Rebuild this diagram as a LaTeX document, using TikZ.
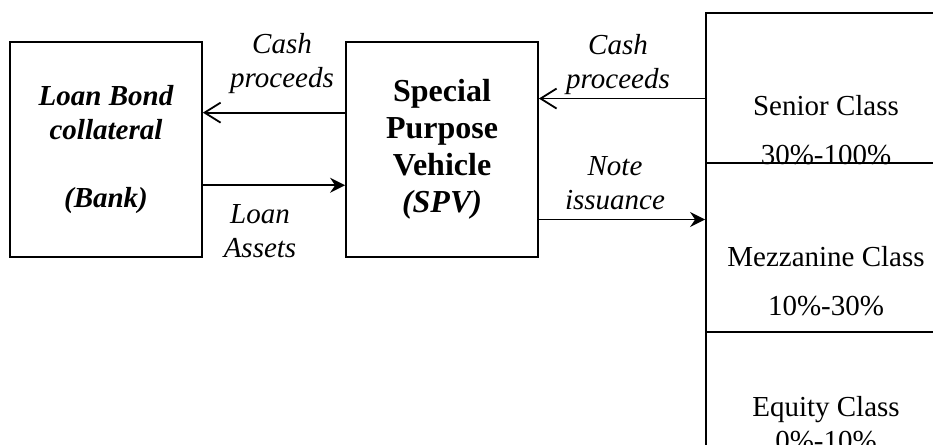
\documentclass[tikz,border=0pt]{standalone}
\usepackage{fontspec}
\setmainfont{Liberation Serif}
\usetikzlibrary{arrows.meta,calc}

\tikzset{
  box/.style={draw, line width=0.9pt, minimum width=96pt, minimum height=107.5pt,
    align=center, inner sep=0pt},
  tranche/.style={draw, line width=0.9pt, minimum width=120pt, inner sep=0pt},
  flowlabel/.style={font=\fontsize{14.5}{17}\selectfont\itshape, align=center},
  classtext/.style={font=\fontsize{14.5}{24.5}\selectfont, align=center},
  fwd/.style={line width=0.9pt, -{Stealth[length=7.5pt,width=7.5pt,inset=2.5pt]}},
  back/.style={line width=0.9pt, -{Straight Barb[length=8pt,width=10pt,line width=0.9pt]}},
}

\begin{document}
\begin{tikzpicture}[x=0.5pt,y=-0.5pt]
\useasboundingbox (0,0) rectangle (933,445);
\clip (0,0) rectangle (933,445);
% bank and SPV
\node[box, font=\fontsize{14.5}{17}\selectfont\bfseries\itshape] (bank) at (106,149.5)
  {Loan Bond\\collateral\\[17pt](Bank)};
\node[box, font=\fontsize{16}{18.5}\selectfont\bfseries] (spv) at (442,149.5)
  {Special\\Purpose\\Vehicle\\\textit{(SPV)}};
% tranches, cut off on the right
\node[tranche, minimum height=75pt] (senior) at (826,88) {};
\node[tranche, minimum height=84.5pt] (mezz) at (826,247.5) {};
\node[tranche, minimum height=84.5pt] (equity) at (826,416.5) {};
\node[classtext] (seniortxt) at (826,130) {Senior Class\\30\%-100\%};
\node[classtext] (mezztxt) at (826,281) {Mezzanine Class\\10\%-30\%};
\node[classtext, font=\fontsize{14.5}{17}\selectfont] (equitytxt) at (826,424) {Equity Class\\0\%-10\%};
% flows
\coordinate (cashin) at ($(spv.north east)!0.265!(spv.south east)$);
\coordinate (noteout) at ($(spv.north east)!0.823!(spv.south east)$);
\draw[back] ($(spv.north west)!0.33!(spv.south west)$) -- ($(bank.north east)!0.33!(bank.south east)$);
\draw[fwd] ($(bank.north east)!0.665!(bank.south east)$) -- ($(spv.north west)!0.665!(spv.south west)$);
\draw[back] (cashin -| senior.west) -- (cashin);
\draw[fwd] (noteout) -- (noteout -| mezz.west);
\node[flowlabel] (cashleft) at (282,64) {Cash\\proceeds};
\node[flowlabel] (loanassets) at (260,231) {Loan\\Assets};
\node[flowlabel] (cashright) at (618,65) {Cash\\proceeds};
\node[flowlabel] (noteiss) at (615,183) {Note\\issuance};
\end{tikzpicture}
\end{document}
